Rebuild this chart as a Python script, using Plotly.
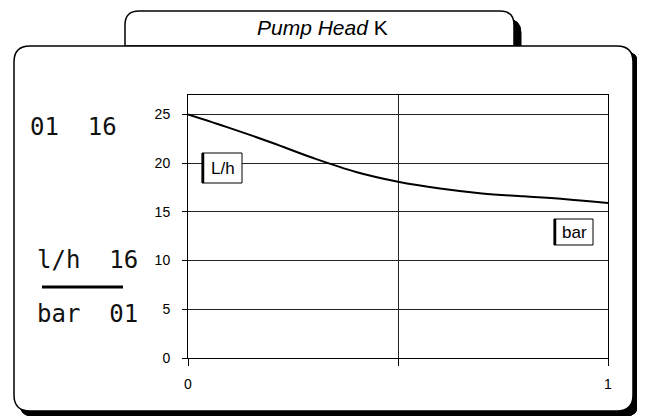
import plotly.graph_objects as go

# ---- data ----
x_vals = [0.0, 0.1, 0.2, 0.3, 0.4, 0.5, 0.6, 0.7, 0.8, 0.9, 1.0]
head_vals = [25.0, 23.6, 22.1, 20.5, 19.1, 18.1, 17.4, 16.9, 16.6, 16.3, 15.9]
y_ticks = [0, 5, 10, 15, 20, 25]
x_ticks = [0, 0.5, 1]
x_tick_text = ["0", "", "1"]
title_text = "<i>Pump Head</i> K"
left_texts = ["01  16", "l/h  16", "bar  01"]
box_labels = ["L/h", "bar"]

OFF = 8  # page body margin
W, H = 645, 416
PL, PR, PT, PB = 188, 608, 95, 358  # plot area in window pixels


def px(x):
    return (x - PL) / (PR - PL)


def py(y):
    return (PB - y) / (PB - PT)


def pt(x, y):
    return f"{px(x):.5f},{py(y):.5f}"


def rr_path(x0, y0, x1, y1, r):
    return (f"M {pt(x0 + r, y0)} L {pt(x1 - r, y0)} Q {pt(x1, y0)} {pt(x1, y0 + r)} "
            f"L {pt(x1, y1 - r)} Q {pt(x1, y1)} {pt(x1 - r, y1)} "
            f"L {pt(x0 + r, y1)} Q {pt(x0, y1)} {pt(x0, y1 - r)} "
            f"L {pt(x0, y0 + r)} Q {pt(x0, y0)} {pt(x0 + r, y0)} Z")


def tab_path(x0, y0, x1, yb, r):
    return (f"M {pt(x0, yb)} L {pt(x0, y0 + r)} Q {pt(x0, y0)} {pt(x0 + r, y0)} "
            f"L {pt(x1 - r, y0)} Q {pt(x1, y0)} {pt(x1, y0 + r)} L {pt(x1, yb)} Z")


fig = go.Figure()
fig.add_trace(go.Scatter(x=x_vals, y=head_vals, mode="lines",
                         line=dict(color="black", width=2, shape="spline"),
                         hoverinfo="skip", showlegend=False))

shapes = []
# tab shadow + tab
shapes.append(dict(type="path", xref="paper", yref="paper", layer="below",
                   path=tab_path(131, 19, 521, 46, 14), fillcolor="black",
                   line=dict(color="black", width=1)))
shapes.append(dict(type="path", xref="paper", yref="paper", layer="below",
                   path=tab_path(125, 11, 514, 46, 14), fillcolor="white",
                   line=dict(color="black", width=1.5)))
# main box shadow + main box
shapes.append(dict(type="path", xref="paper", yref="paper", layer="below",
                   path=rr_path(19, 51, 639, 417, 16), fillcolor="black",
                   line=dict(color="black", width=1)))
shapes.append(dict(type="path", xref="paper", yref="paper", layer="below",
                   path=rr_path(14, 46, 633, 411, 16), fillcolor="white",
                   line=dict(color="black", width=1.5)))
# separator bar on the left
shapes.append(dict(type="line", xref="paper", yref="paper",
                   x0=px(42), x1=px(123), y0=py(287), y1=py(287),
                   line=dict(color="black", width=3)))

# labelled boxes inside plot
boxes = [(202, 153, 242, 183), (554, 219, 593, 245)]
for (bx0, by0, bx1, by1), lab in zip(boxes, box_labels):
    shapes.append(dict(type="rect", xref="paper", yref="paper", layer="above",
                       x0=px(bx0), x1=px(bx1), y0=py(by1), y1=py(by0),
                       fillcolor="white", line=dict(color="black", width=1)))
    shapes.append(dict(type="line", xref="paper", yref="paper", layer="above",
                       x0=px(bx0 + 1), x1=px(bx0 + 1), y0=py(by1), y1=py(by0),
                       line=dict(color="black", width=2.5)))

annotations = []
annotations.append(dict(text=title_text, xref="paper", yref="paper",
                        x=px(322), y=py(28), xanchor="center", yanchor="middle",
                        showarrow=False,
                        font=dict(family="Liberation Sans, Arial", size=21, color="black")))
left_pos = [(28, 127), (35, 260), (35, 314)]
for (lx, ly), t in zip(left_pos, left_texts):
    annotations.append(dict(text=t, xref="paper", yref="paper",
                            x=px(lx), y=py(ly), xanchor="left", yanchor="middle",
                            showarrow=False,
                            font=dict(family="DejaVu Sans Mono", size=24, color="#111")))
for (bx0, by0, bx1, by1), lab in zip(boxes, box_labels):
    annotations.append(dict(text=lab, xref="paper", yref="paper",
                            x=px((bx0 + bx1) / 2 + 1), y=py((by0 + by1) / 2),
                            xanchor="center", yanchor="middle", showarrow=False,
                            font=dict(family="Liberation Sans, Arial", size=17, color="black")))

fig.update_layout(
    width=W - OFF, height=H - OFF,
    margin=dict(l=PL - OFF, r=W - PR, t=PT - OFF, b=H - PB, pad=0),
    paper_bgcolor="white", plot_bgcolor="rgba(0,0,0,0)",
    shapes=shapes, annotations=annotations, showlegend=False,
)
fig.update_xaxes(range=[0, 1], tickvals=x_ticks, ticktext=x_tick_text,
                 ticks="outside", ticklen=7, tickcolor="black",
                 showgrid=True, gridcolor="#222", gridwidth=1, zeroline=False,
                 showline=True, linecolor="black", linewidth=1, mirror=True,
                 ticklabelstandoff=6,
                 tickfont=dict(family="Liberation Sans, Arial", size=14, color="black"))
fig.update_yaxes(range=[0, 27], tickvals=y_ticks,
                 ticks="outside", ticklen=5, tickcolor="black",
                 showgrid=True, gridcolor="#222", gridwidth=1, zeroline=False,
                 showline=True, linecolor="black", linewidth=1, mirror=True,
                 ticklabelstandoff=9,
                 tickfont=dict(family="Liberation Sans, Arial", size=14, color="black"))

fig.write_html("out.html")
